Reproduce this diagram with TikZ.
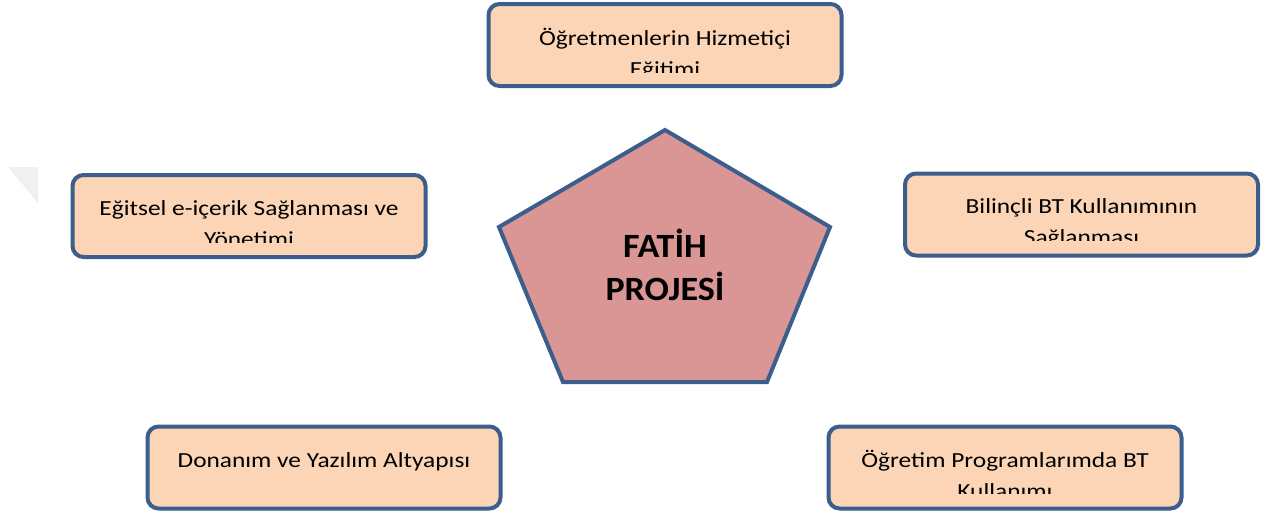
\documentclass[tikz,border=0pt]{standalone}
\usepackage{fontspec}
\setmainfont{Carlito}
\newfontfamily\boxfont[FakeStretch=1.18]{Carlito}
\newfontfamily\bigfont[FakeStretch=1.06]{Carlito}
\definecolor{bordblue}{HTML}{3B5E8D}
\definecolor{peach}{HTML}{FBD5B5}
\definecolor{rose}{HTML}{D99694}
\tikzset{
  box/.style={draw=bordblue, fill=peach, line width=4pt, rounded corners=11pt,
    minimum width=353pt, minimum height=82pt, inner sep=0pt},
  lbl/.style={align=center, inner sep=0pt, font=\boxfont\fontsize{21.5}{31}\selectfont},
  big/.style={align=center, inner sep=0pt, font=\bigfont\fontsize{34}{43}\selectfont\bfseries}
}
\begin{document}
\begin{tikzpicture}[x=1pt,y=-1pt]
\useasboundingbox (0,0) rectangle (1270,515);
% faint triangle
\fill[black!6] (8,167) -- (38,167) -- (38,203) -- cycle;
% pentagon
\coordinate (p1) at (665,130);
\coordinate (p2) at (830,227);
\coordinate (p3) at (767,382);
\coordinate (p4) at (563,382);
\coordinate (p5) at (499,227);
\filldraw[draw=bordblue, fill=rose, line width=4pt, line join=miter]
  (p1) -- (p2) -- (p3) -- (p4) -- (p5) -- cycle;
\node[big, anchor=base] (fatih) at (665,300) {FATİH\\PROJESİ};
% boxes
\node[box] (top) at (665,45) {};
\node[box] (left) at (249,216) {};
\node[box] (right) at (1081.5,214.5) {};
\node[box] (bl) at (324,467.5) {};
\node[box] (br) at (1005,467.5) {};
\begin{scope}
\clip (489,4) rectangle (841,72);
\node[lbl, anchor=base] (topt) at (665,76.5) {Öğretmenlerin Hizmetiçi\\Eğitimi};
\end{scope}
\begin{scope}
\clip (72,175) rectangle (426,242);
\node[lbl, anchor=base] (leftt) at (249,246) {Eğitsel e-içerik Sağlanması ve\\Yönetimi};
\end{scope}
\begin{scope}
\clip (905,174) rectangle (1258,240);
\node[lbl, anchor=base] (rightt) at (1081.5,244) {Bilinçli BT Kullanımının\\Sağlanması};
\end{scope}
\node[lbl, anchor=base] (blt) at (324,467) {Donanım ve Yazılım Altyapısı};
\begin{scope}
\clip (829,427) rectangle (1181,493);
\node[lbl, anchor=base] (brt) at (1005,498) {Öğretim Programlarımda BT\\Kullanımı};
\end{scope}
\end{tikzpicture}
\end{document}
